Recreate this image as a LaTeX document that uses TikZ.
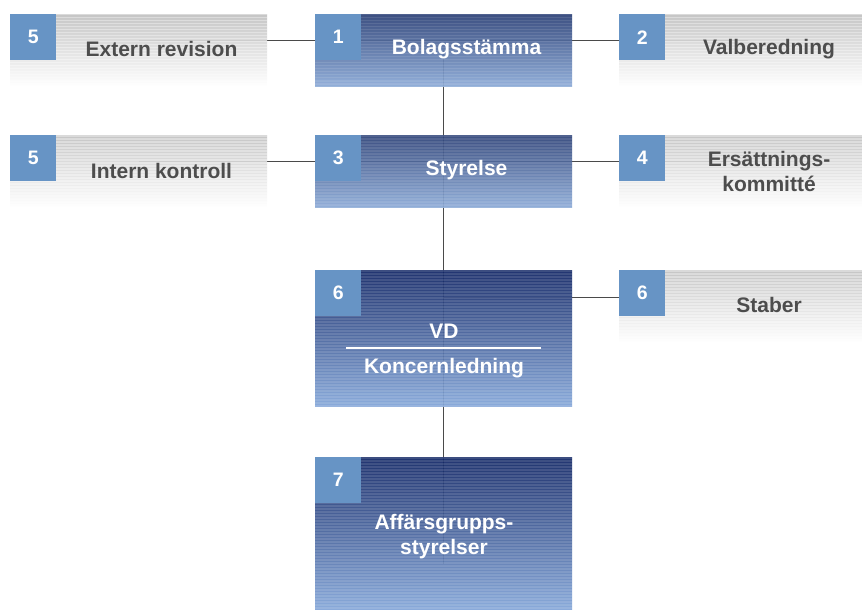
\documentclass[tikz,border=0pt]{standalone}
\usepackage{fontspec}
\setmainfont{Liberation Sans}
\definecolor{numblue}{HTML}{6794C5}
\definecolor{linec}{HTML}{4A4A4A}
\definecolor{graytext}{HTML}{4D4D4D}
\definecolor{bAtop}{HTML}{2E4379}
\definecolor{bAmid}{HTML}{5670A6}
\definecolor{bAbot}{HTML}{8AA9D6}
\definecolor{bBtop}{HTML}{102565}
\definecolor{bBmid}{HTML}{3A5A9C}
\definecolor{bBbot}{HTML}{82A5D8}
\begin{document}
\begin{tikzpicture}[x=1pt,y=-1pt,
  stripes/.style={path picture={\foreach \k in {0,3,...,159}{\fill[white,opacity=#1] ([yshift=-\k pt]path picture bounding box.north west) rectangle ([yshift={-(\k+1.3)*1pt}]path picture bounding box.north east);}}},
  ph/.style={draw=none, inner sep=0pt, anchor=north west, minimum width=257pt},
  boxbase/.style={ph, fill opacity=0.93},
  blueA/.style={boxbase, shading=axis, top color=bAtop, middle color=bAmid, bottom color=bAbot, stripes=0.1},
  blueB/.style={boxbase, shading=axis, top color=bBtop, middle color=bBmid, bottom color=bBbot, stripes=0.12},
  graybox/.style={boxbase, minimum height=72pt, shading=axis, top color=black!24, middle color=black!12, bottom color=white, stripes=0.35},
  num/.style={fill=numblue, minimum size=46pt, inner sep=0pt, anchor=north west, text=white, font=\bfseries\fontsize{19.5}{22}\selectfont},
  wtxt/.style={text=white, font=\bfseries\fontsize{21}{25}\selectfont, align=center, inner sep=0pt},
  gtxt/.style={text=graytext, font=\bfseries\fontsize{21}{25}\selectfont, align=center, inner sep=0pt},
  conn/.style={draw=linec, line width=1pt}]
\useasboundingbox (0,0) rectangle (862,610);

% placement pass (invisible) for names used by connectors
\node[ph, minimum height=72pt] (bol0) at (315,14) {};
\node[ph, minimum height=72pt] (sty0) at (315,135) {};
\node[ph, minimum height=136pt] (vd0) at (315,270) {};
\node[ph, minimum height=153pt] (aff0) at (315,457) {};
\node[ph, minimum height=72pt] (ext0) at (10,14) {};
\node[ph, minimum height=72pt] (val0) at (619,14) {};
\node[ph, minimum height=72pt] (int0) at (10,135) {};
\node[ph, minimum height=72pt] (ers0) at (619,135) {};
\node[ph, minimum height=72pt] (sta0) at (619,270) {};

% connectors
\draw[conn] ([yshift=10pt]ext0.center) -- ([yshift=10pt]ext0.center -| val0.center);
\draw[conn] ([yshift=10pt]int0.center) -- ([yshift=10pt]int0.center -| ers0.center);
\draw[conn] ([yshift=9pt]sta0.west) -- ([yshift=9pt]sta0.west -| vd0.center);
\draw[conn] (bol0.center) -- (sty0.center) -- (vd0.center) -- ([yshift=-30pt]aff0.center);

% visible boxes
\node[blueA, minimum height=72pt] (bol) at (315,14) {};
\node[blueA, minimum height=72pt] (sty) at (315,135) {};
\node[blueB, minimum height=136pt] (vd) at (315,270) {};
\node[blueB, minimum height=153pt] (aff) at (315,457) {};
\node[graybox] (ext) at (10,14) {};
\node[graybox, minimum width=243pt] (val) at (619,14) {};
\node[graybox] (int) at (10,135) {};
\node[graybox, minimum width=243pt] (ers) at (619,135) {};
\node[graybox, minimum width=243pt] (sta) at (619,270) {};

% number squares
\node[num] (n1) at (bol.north west) {1};
\node[num] (n3) at (sty.north west) {3};
\node[num] (n6a) at (vd.north west) {6};
\node[num] (n7) at (aff.north west) {7};
\node[num] (n5a) at (ext.north west) {5};
\node[num] (n2) at (val.north west) {2};
\node[num] (n5b) at (int.north west) {5};
\node[num] (n4) at (ers.north west) {4};
\node[num] (n6b) at (sta.north west) {6};

% texts
\node[wtxt] (tbol) at (466.5,49) {Bolagsstämma};
\node[wtxt] (tsty) at (466.5,170.5) {Styrelse};
\node[wtxt] (tvd) at (444,331) {VD};
\draw[white, line width=2pt] (346,348) -- (541,348);
\node[wtxt] (tkon) at (444,368.5) {Koncernledning};
\node[wtxt] (taff) at (444,537) {Affärsgrupps-\\[0pt]styrelser};
\node[gtxt] (text) at (161.5,49) {Extern revision};
\node[gtxt] (tval) at (769,49) {Valberedning};
\node[gtxt] (tint) at (161.5,170.5) {Intern kontroll};
\node[gtxt] (ters) at (769,171) {Ersättnings-\\[0pt]kommitté};
\node[gtxt] (tsta) at (769,305) {Staber};
\end{tikzpicture}
\end{document}
